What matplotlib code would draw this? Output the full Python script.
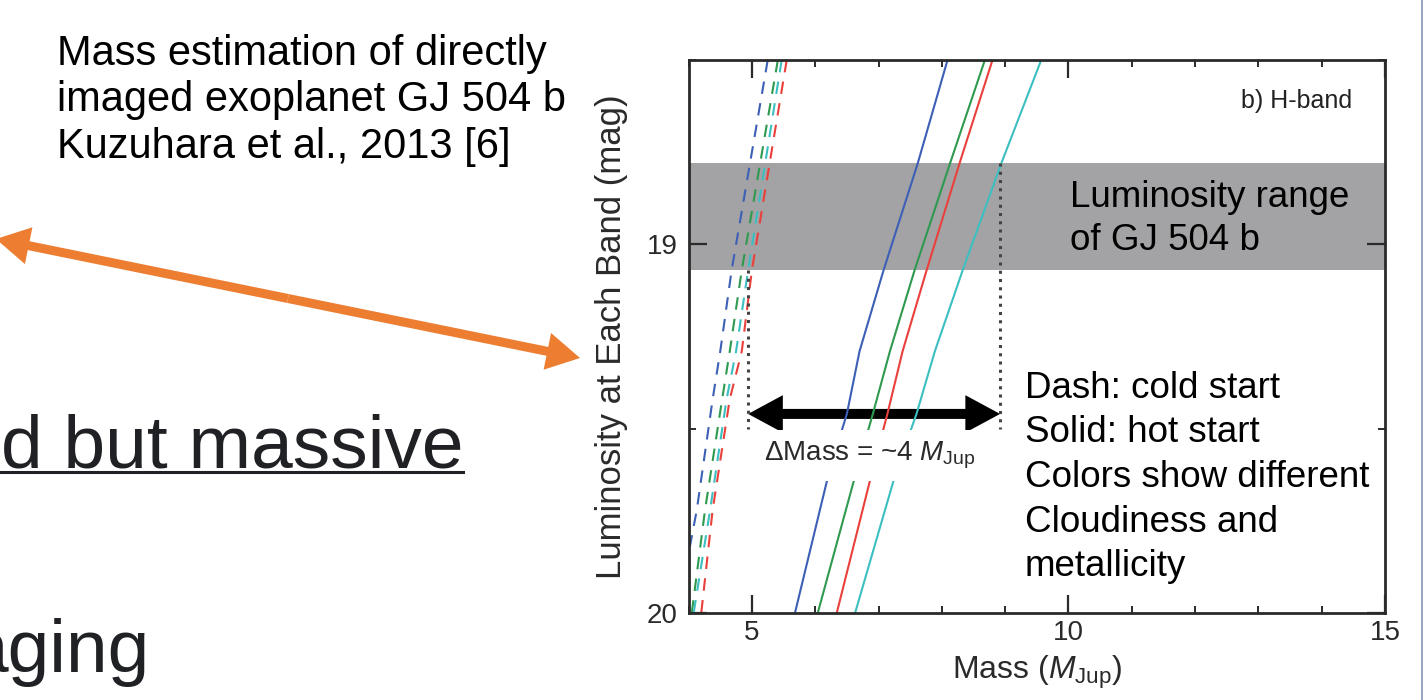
import matplotlib
matplotlib.use("Agg")
import matplotlib.pyplot as plt
from matplotlib.patches import FancyArrowPatch
from matplotlib.lines import Line2D
from matplotlib.ticker import FixedLocator, MultipleLocator

plt.rcParams['font.family'] = 'Liberation Sans'
plt.rcParams['mathtext.fontset'] = 'custom'
plt.rcParams['mathtext.rm'] = 'Liberation Sans'
plt.rcParams['mathtext.it'] = 'Liberation Sans:italic'
plt.rcParams['mathtext.bf'] = 'Liberation Sans:bold'

W, H = 1424, 700

# hot start tracks: H-band magnitude vs mass (M_Jup)
hot_mag = [18.5, 18.78, 19.07, 19.29, 19.46, 19.61, 20.0]
hot_blue = [8.09, 7.62, 7.08, 6.70, 6.50, 6.23, 5.68]
hot_green = [8.68, 8.13, 7.57, 7.18, 6.91, 6.66, 6.04]
hot_red = [8.80, 8.28, 7.76, 7.38, 7.14, 6.91, 6.34]
hot_cyan = [9.57, 8.94, 8.33, 7.89, 7.60, 7.29, 6.63]

# cold start tracks
cold_blue_mag = [18.5, 18.78, 19.07, 19.29, 19.42, 19.72, 19.82]
cold_blue = [5.25, 4.97, 4.68, 4.50, 4.38, 4.13, 4.02]
cold_mag = [18.5, 18.78, 19.07, 19.29, 19.42, 19.72, 20.0]
cold_green = [5.41, 5.13, 4.84, 4.65, 4.53, 4.26, 4.05]
cold_cyan = [5.47, 5.21, 4.94, 4.75, 4.60, 4.34, 4.08]
cold_red = [5.55, 5.28, 5.00, 4.84, 4.65, 4.38, 4.20]

# observed H-band range of GJ 504 b and the mass interval it implies
band_lo, band_hi = 18.78, 19.07
mass_lo, mass_hi = 4.94, 8.92
arrow_mag = 19.46
guide_end = 19.50

c_blue, c_green, c_red, c_cyan = '#3d5fb5', '#2f9a4f', '#e9403c', '#3cbfc0'

note_lines = ["Mass estimation of directly", "imaged exoplanet GJ 504 b",
              "Kuzuhara et al., 2013 [6]"]
legend_lines = ["Dash: cold start", "Solid: hot start", "Colors show different",
                "Cloudiness and", "metallicity"]
band_lines = ["Luminosity range", "of GJ 504 b"]


def fxy(x, y):
    # pixel position on the slide -> figure fraction
    return x / W, 1 - y / H


def double_arrow(host, p0, p1, transform, color, head_len, head_w, tail_w):
    mid = ((p0[0] + p1[0]) / 2, (p0[1] + p1[1]) / 2)
    style = f"simple,head_length={head_len},head_width={head_w},tail_width={tail_w}"
    for end in (p0, p1):
        arr = FancyArrowPatch(mid, end, arrowstyle=style, mutation_scale=1,
                              color=color, lw=0, shrinkA=0, shrinkB=0,
                              transform=transform)
        host.add_artist(arr)


fig = plt.figure(figsize=(W / 100, H / 100), dpi=100)
fig.patch.set_facecolor('white')

# slide text on the left
for i, line in enumerate(note_lines):
    fig.text(*fxy(57, 65 + 46.5 * i), line, fontsize=30, color='black',
             va='baseline', ha='left')

fig.text(*fxy(1, 468), "d but massive", fontsize=54, color='#202124',
         va='baseline', ha='left')
fig.add_artist(Line2D([0, 463 / W], [1 - 472 / H] * 2, color='#202124', lw=2.2,
                      transform=fig.transFigure))
fig.text(*fxy(150, 672), "aging", fontsize=54, color='#202124',
         va='baseline', ha='right')

double_arrow(fig, fxy(-4, 239), fxy(580, 358), fig.transFigure, '#ed7d31',
             24, 27, 6.5)

# slide border
fig.add_artist(Line2D([1421.5 / W] * 2, [0, 1], color='#8796b3', lw=1.2,
                      transform=fig.transFigure))

# the figure panel
ax = fig.add_axes([688.6 / W, (H - 613) / H, (1385 - 688.6) / W, (613 - 60) / H])
ax.set_xlim(4, 15)
ax.set_ylim(20, 18.5)

ax.axhspan(band_lo, band_hi, color='#a3a3a5', lw=0, zorder=0.5)

for m, c in [(hot_blue, c_blue), (hot_green, c_green), (hot_red, c_red), (hot_cyan, c_cyan)]:
    ax.plot(m, hot_mag, color=c, lw=1.5, zorder=2)

cold = [(cold_blue, cold_blue_mag, c_blue), (cold_green, cold_mag, c_green),
        (cold_cyan, cold_mag, c_cyan), (cold_red, cold_mag, c_red)]
for m, mag, c in cold:
    ax.plot(m, mag, color=c, lw=1.5, linestyle=(0, (6, 4.5)), zorder=2)

dot = dict(color='#444444', lw=2.2, linestyle=(0, (1, 1.7)), zorder=3)
ax.plot([mass_lo, mass_lo], [band_hi, guide_end], **dot)
ax.plot([mass_hi, mass_hi], [band_lo, guide_end], **dot)

double_arrow(ax, (mass_lo, arrow_mag), (mass_hi, arrow_mag), ax.transData,
             'black', 25, 27, 7.2)

ax.text(6.86, 19.586, r'ΔMass = ~4 $M_{\rm Jup}$', fontsize=20, color='#2a2a2a',
        ha='center', va='baseline', zorder=4,
        bbox=dict(facecolor='white', edgecolor='none', pad=7))

ax.text((1352 - 688.6) / 696.4, (613 - 108) / 553, 'b) H-band', fontsize=18,
        color='#222222', ha='right', va='baseline', transform=ax.transAxes)

for i, line in enumerate(band_lines):
    fig.text(*fxy(1070, 207 + 43 * i), line, fontsize=26.5, color='black',
             va='baseline', ha='left')
for i, line in enumerate(legend_lines):
    fig.text(*fxy(1025, 398 + 44.5 * i), line, fontsize=26.5, color='black',
             va='baseline', ha='left')

# axes styling
ax.xaxis.set_major_locator(FixedLocator([5, 10, 15]))
ax.xaxis.set_minor_locator(MultipleLocator(1))
ax.yaxis.set_major_locator(FixedLocator([19, 20]))
ax.yaxis.set_minor_locator(FixedLocator([18.5, 19.5]))
ax.tick_params(which='both', direction='in', top=True, right=True,
               colors='#2a2a2a', labelsize=20)
ax.tick_params(which='major', length=13, width=1.6)
ax.tick_params(which='minor', length=5, width=1.4)
ax.tick_params(axis='x', pad=5)
ax.tick_params(axis='y', pad=8)
for s in ax.spines.values():
    s.set_linewidth(2.0)
    s.set_color('#2a2a2a')

ax.set_xlabel(r'Mass ($M_{\rm Jup}$)', fontsize=23, color='#2a2a2a', labelpad=6)
ax.set_ylabel('Luminosity at Each Band (mag)', fontsize=25, color='#2a2a2a',
              labelpad=13)

fig.savefig('out.png', dpi=100, facecolor='white')
